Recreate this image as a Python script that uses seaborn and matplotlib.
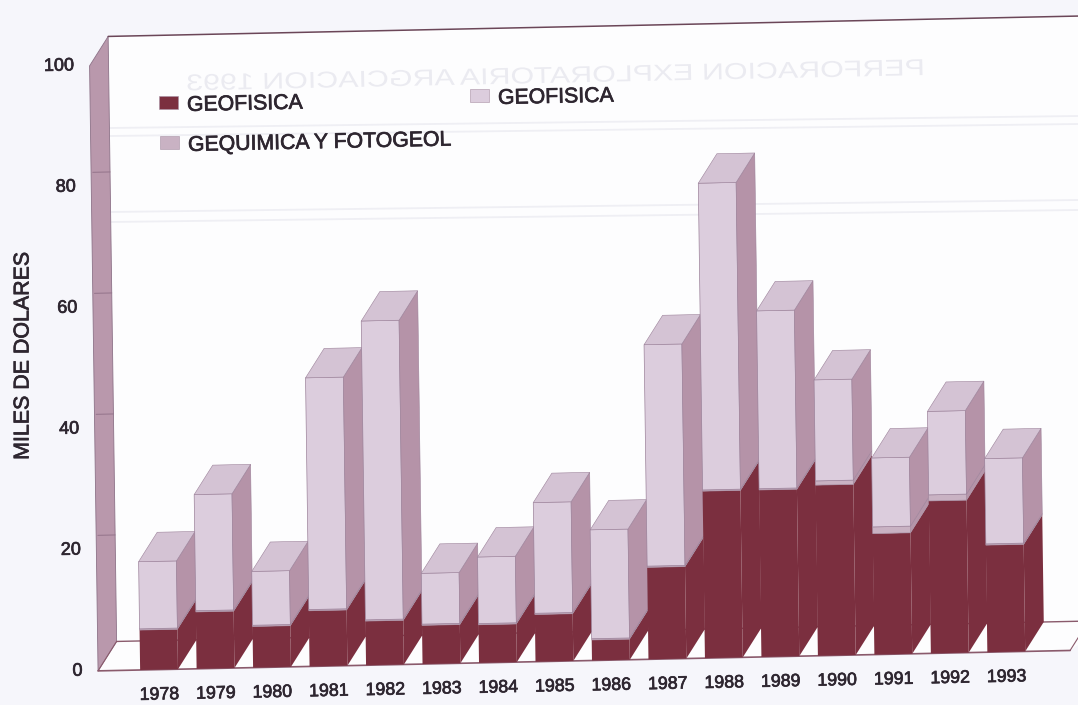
import numpy as np
import seaborn as sns
from matplotlib import pyplot as plt
from matplotlib.patches import Polygon, Rectangle, PathPatch
from matplotlib.patheffects import withStroke
from matplotlib.textpath import TextPath
from matplotlib.transforms import Affine2D, IdentityTransform

years = ['1978', '1979', '1980', '1981', '1982', '1983', '1984', '1985',
         '1986', '1987', '1988', '1989', '1990', '1991', '1992', '1993']
geofisica_osc = [6.6, 9.4, 6.8, 9.2, 7.3, 6.4, 6.3, 7.8, 3.4, 15.2, 27.6, 27.6, 28.2, 20.0, 25.2, 17.7]
gequimica = [0.2, 0.2, 0.2, 0.2, 0.2, 0.2, 0.2, 0.2, 0.2, 0.2, 0.2, 0.2, 0.7, 1.1, 1.0, 0.2]
geofisica_cla = [11.1, 19.2, 8.9, 38.3, 49.4, 8.4, 11.0, 18.3, 18.0, 36.6, 50.7, 29.4, 16.7, 11.4, 13.8, 14.1]
yticks = [0, 20, 40, 60, 80, 100]

# colours: front, side, top
DARK = ('#7b2f3f', '#7b2f3f', '#7b2f3f')
MAUVE = ('#c9b2c3', '#b595a9', '#c9b2c3')
LIGHT = ('#dccddd', '#b593a8', '#d4c3d4')
TXT = '#2e2630'
PAGE = '#f6f6fb'
INK = [withStroke(linewidth=0.5, foreground=TXT)]

DX, DY = 0.336, 4.8  # depth of the 3d effect, in data units
sns.set_style('white')
plt.rcParams['font.family'] = ['Liberation Sans', 'DejaVu Sans']

fig = plt.figure(figsize=(10.78, 7.05), dpi=100, facecolor=PAGE)
ax = fig.add_axes([0, 0, 1, 1])
ax.set_facecolor(PAGE)

# the page was scanned a bit crooked, so everything goes through this
skew = 0.196
lean = 0.0015
x0 = -0.336
tilt = Affine2D(np.array([[1, -lean, 0], [skew, 1, -skew * x0], [0, 0, 1]])) + ax.transData


def pg(pts, fc, ec='none', z=1, lw=0.6):
    p = Polygon(pts, closed=True, facecolor=fc, edgecolor=ec, linewidth=lw, zorder=z, transform=tilt)
    ax.add_patch(p)


def stack_layer(vals, bottom, cols, ec='none', top=False):
    n = len(ax.patches)
    sns.barplot(x=years, y=vals, bottom=bottom, color=cols[0], saturation=1, width=0.67,
                edgecolor=ec, linewidth=0.5, ax=ax)
    for i, b in enumerate(list(ax.patches)[n:]):
        b.set_transform(tilt)
        b.set_zorder(5 + i)
        x1, x2 = b.get_x(), b.get_x() + b.get_width()
        y1, y2 = b.get_y(), b.get_y() + b.get_height()
        pg([(x2, y1), (x2 + DX, y1 + DY), (x2 + DX, y2 + DY), (x2, y2)], cols[1], ec, 5 + i, 0.4)
        if top:
            pg([(x1, y2), (x1 + DX, y2 + DY), (x2 + DX, y2 + DY), (x2, y2)], cols[2], ec, 5 + i, 0.4)


lo = np.array(geofisica_osc)
mid = lo + np.array(gequimica)
stack_layer(geofisica_osc, 0, DARK)
stack_layer(gequimica, lo, MAUVE, ec='#a58ba0')
stack_layer(geofisica_cla, mid, LIGHT, ec='#9c829a', top=True)

ax.set_xlim(-2.816, 16.27)
ax.set_ylim(-5.785, 110.74)
ax.axis('off')
ax.patch.set_visible(False)

# walls and floor
wx = -1.08
xr = 16.9
xf = 16.13
pg([(wx + DX, DY), (wx + DX, 100 + DY), (xr, 100 + DY), (xr, DY)], '#fdfdfe', z=0.5)
pg([(wx, 0), (wx + DX, DY), (xr, DY), (xf, 0)], '#fdfdfe', z=0.5)
pg([(wx, 0), (wx, 100), (wx + DX, 100 + DY), (wx + DX, DY)], '#b998ac', '#8d7288', 1)
for v in yticks[1:-1]:
    ax.plot([wx + 0.03, wx + DX], [v + DY * 0.5, v + DY * 0.5], color='#93738a', lw=0.7, transform=tilt, zorder=2)
ax.plot([wx + DX, xr], [100 + DY, 100 + DY], color='#6b4658', lw=1.1, transform=tilt, zorder=2)
ax.plot([wx + DX, xr], [DY, DY], color='#8a5a6c', lw=1.0, transform=tilt, zorder=2)
ax.plot([wx, xf], [0, 0], color='#8a5a6c', lw=1.2, transform=tilt, zorder=2)
ax.plot([wx, wx + DX], [0, DY], color='#8a5a6c', lw=0.8, transform=tilt, zorder=2)
ax.plot([xf, xf + DX], [0, DY], color='#8a5a6c', lw=0.8, transform=tilt, zorder=2)

# tick labels
for i, y in enumerate(years):
    ax.text(i, -4.2, y, ha='center', va='center', fontsize=12.8, color=TXT, rotation=1.2,
            transform=tilt, zorder=20, path_effects=INK)
for v in yticks:
    ax.text(-1.35, v, str(v), ha='right', va='center', fontsize=13, color=TXT, rotation=1.2,
            transform=tilt, zorder=20, path_effects=INK)
fig.text(23 / 1078, 1 - 356 / 705, 'MILES DE DOLARES', rotation=90, ha='center', va='center',
         fontsize=15.4, color=TXT, path_effects=INK)

# legend is spread out in the original, so place it by hand
legend_items = [('GEOFISICA', DARK[0], 159, 103), ('GEOFISICA', LIGHT[0], 470, 96),
                ('GEQUIMICA Y FOTOGEOL', MAUVE[0], 160, 143)]
for lab, c, px, py in legend_items:
    fig.add_artist(Rectangle((px / 1078, 1 - (py + 6) / 705), 19 / 1078, 13 / 705, facecolor=c,
                             edgecolor='#a890a4', linewidth=0.4, transform=fig.transFigure))
    fig.text((px + 28) / 1078, 1 - (py + 2.5) / 705, lab, ha='left', va='center', fontsize=15.3,
             color=TXT, rotation=1.2, rotation_mode='anchor', path_effects=INK)

# faint print-through from the other side of the sheet, it reads mirrored
ghost = TextPath((0, 0), 'PERFORACION EXPLORATORIA ARGCIACION 1993', size=23)
gw = ghost.get_extents().width
ghost_tr = Affine2D().scale(-735 / gw, 1).rotate_deg(1.2).translate(925, 705 - 75) + IdentityTransform()
ax.add_patch(PathPatch(ghost, facecolor='#ebebf1', edgecolor='none', transform=ghost_tr, zorder=0.7))
for yy in [128, 136, 212, 222]:
    ax.add_line(plt.Line2D([110, 1078], [705 - yy, 705 - yy + 12], color='#efeff4', lw=1.3,
                           transform=IdentityTransform(), zorder=0.7))

fig.savefig('out.png', dpi=100, facecolor=PAGE)
